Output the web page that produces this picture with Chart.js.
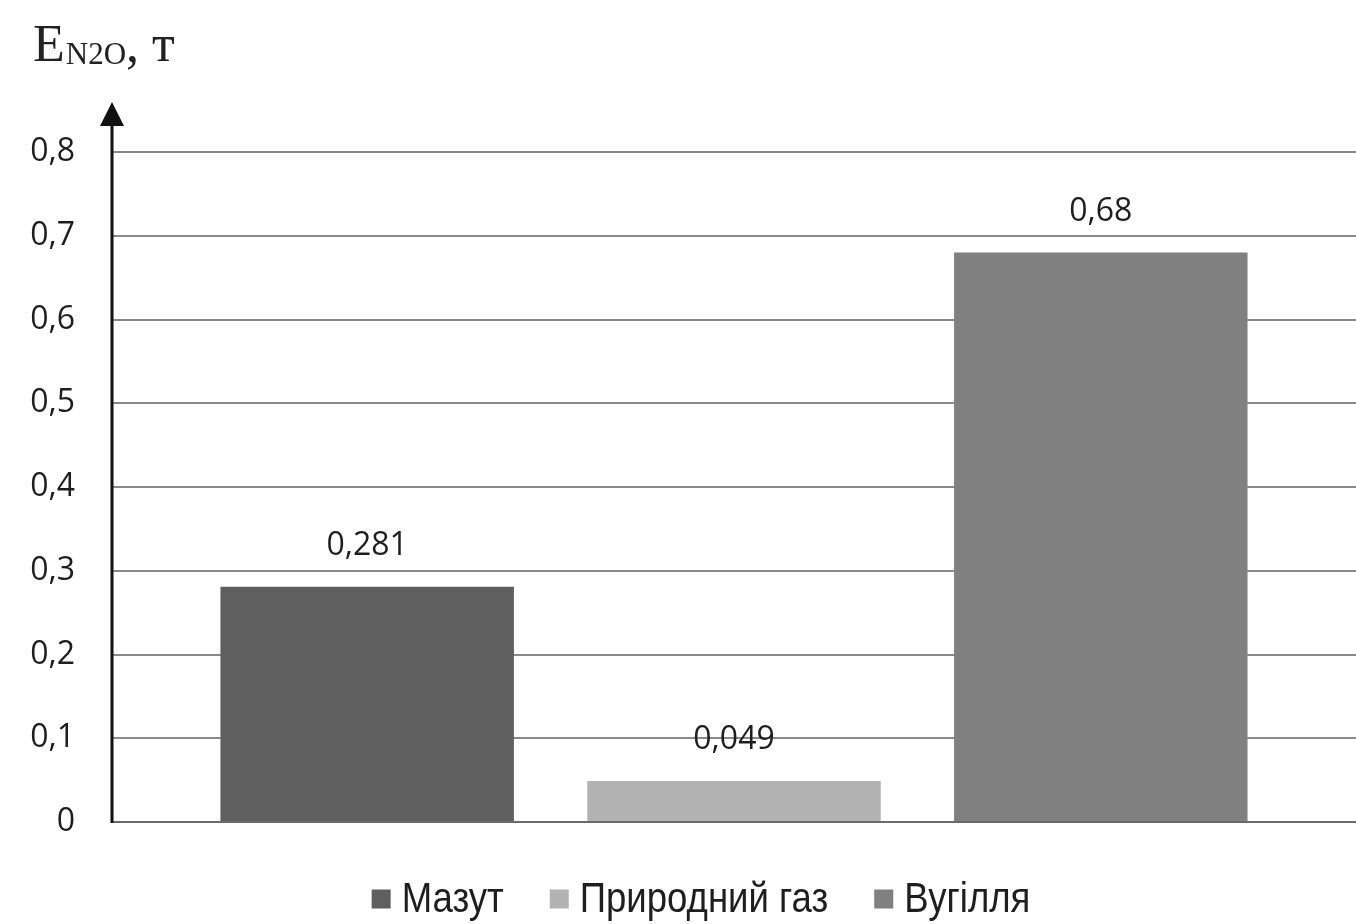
<!DOCTYPE html>
<html>
<head>
<meta charset="utf-8">
<script src="https://cdn.jsdelivr.net/npm/chart.js@4/dist/chart.umd.min.js"></script>
<style>
  html, body { margin: 0; padding: 0; background: #ffffff; }
  #wrap { width: 1356px; height: 924px; position: relative; }
</style>
</head>
<body>
<div id="wrap"><canvas id="c" width="1356" height="924"></canvas></div>
<script>
// Fuel types (one series each) and N2O emissions, t
const fuels = ['Мазут', 'Природний газ', 'Вугілля'];
const emissions = [0.281, 0.049, 0.68];
const fuelColors = ['#5f5f5f', '#b2b2b2', '#808080'];
const yTicks = ['0', '0,1', '0,2', '0,3', '0,4', '0,5', '0,6', '0,7', '0,8'];

const fmt = v => String(v).replace('.', ',');

// Axis title with subscript, arrowed y-axis, value labels and legend
const decorations = {
  id: 'decorations',
  afterDatasetsDraw(chart) {
    const ctx = chart.ctx;
    const area = chart.chartArea;
    const y = chart.scales.y;
    ctx.save();

    // x baseline
    ctx.strokeStyle = '#6a6a6a';
    ctx.lineWidth = 2;
    ctx.beginPath();
    ctx.moveTo(area.left, y.getPixelForValue(0));
    ctx.lineTo(area.right, y.getPixelForValue(0));
    ctx.stroke();

    // y axis with arrow head
    const ax = area.left;
    ctx.strokeStyle = '#111';
    ctx.lineWidth = 3;
    ctx.beginPath();
    ctx.moveTo(ax, y.getPixelForValue(0) + 1);
    ctx.lineTo(ax, area.top - 30);
    ctx.stroke();
    ctx.fillStyle = '#111';
    ctx.beginPath();
    ctx.moveTo(ax, area.top - 50);
    ctx.lineTo(ax - 12, area.top - 26);
    ctx.lineTo(ax + 12, area.top - 26);
    ctx.closePath();
    ctx.fill();

    // value labels above bars
    ctx.fillStyle = '#1e1e1e';
    ctx.font = '32px "Open Sans", sans-serif';
    ctx.textAlign = 'center';
    ctx.textBaseline = 'middle';
    chart.data.datasets.forEach((ds, i) => {
      const bar = chart.getDatasetMeta(i).data[0];
      ctx.fillText(fmt(ds.data[0]), bar.x, bar.y - 41);
    });

    // axis title: E with subscript N2O
    ctx.textAlign = 'left';
    ctx.textBaseline = 'alphabetic';
    ctx.fillStyle = '#222';
    let tx = 33;
    ctx.font = '52px "Liberation Serif", serif';
    ctx.fillText('E', tx, 61);
    tx += ctx.measureText('E').width + 1;
    ctx.font = '31px "Liberation Serif", serif';
    ctx.fillText('N2O', tx, 64);
    tx += ctx.measureText('N2O').width;
    ctx.font = '52px "Liberation Serif", serif';
    ctx.fillText(', т', tx, 61);

    // legend (condensed text)
    const squeeze = 0.87;
    ctx.font = '42px "Liberation Sans", sans-serif';
    ctx.textBaseline = 'middle';
    const items = chart.data.datasets.map(ds => ({
      text: ds.label, color: ds.backgroundColor,
      w: ctx.measureText(ds.label).width * squeeze
    }));
    const box = 19, gapBoxText = 11, gapItems = 46;
    let total = 0;
    items.forEach((it, i) => { total += box + gapBoxText + it.w + (i < items.length - 1 ? gapItems : 0); });
    let lx = 701 - total / 2;
    const ly = 899;
    items.forEach(it => {
      ctx.fillStyle = it.color;
      ctx.fillRect(lx, ly - box / 2, box, box);
      lx += box + gapBoxText;
      ctx.fillStyle = '#1e1e1e';
      ctx.save();
      ctx.translate(lx, ly + 1);
      ctx.scale(squeeze, 1);
      ctx.fillText(it.text, 0, 0);
      ctx.restore();
      lx += it.w + gapItems;
    });
    ctx.restore();
  }
};

new Chart(document.getElementById('c'), {
  type: 'bar',
  data: {
    labels: [''],
    datasets: fuels.map((name, i) => ({
      label: name,
      data: [emissions[i]],
      backgroundColor: fuelColors[i],
      borderWidth: 0
    }))
  },
  options: {
    responsive: false,
    animation: false,
    devicePixelRatio: 1,
    categoryPercentage: 0.8846,
    barPercentage: 0.8,
    layout: { padding: { left: 0, right: 0, top: 152, bottom: 102 } },
    plugins: { legend: { display: false }, tooltip: { enabled: false } },
    scales: {
      x: { display: false },
      y: {
        min: 0, max: 0.8,
        afterFit(scale) { scale.width = 112; },
        border: { display: false },
        grid: { color: '#8a8a8a', lineWidth: 2, drawTicks: false },
        ticks: {
          stepSize: 0.1,
          padding: 37,
          color: '#1e1e1e',
          font: { family: '"Open Sans", sans-serif', size: 32 },
          callback: (v, i) => yTicks[i]
        }
      }
    }
  },
  plugins: [decorations]
});
</script>
</body>
</html>
